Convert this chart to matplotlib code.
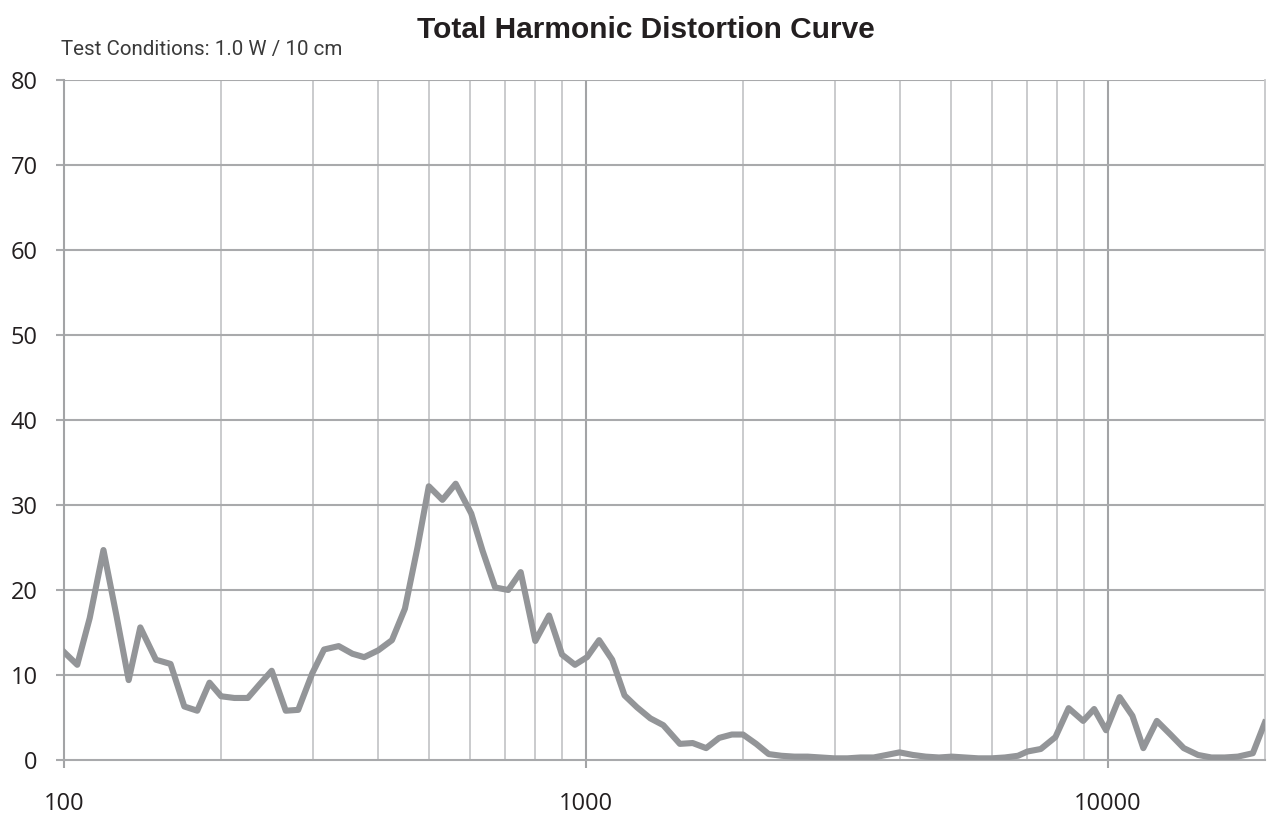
import matplotlib
matplotlib.use("Agg")
import matplotlib.pyplot as plt
from matplotlib.ticker import FixedLocator, NullFormatter

# frequencies (Hz), roughly 1/12 octave steps
freq = [100, 106, 112, 119, 126, 133, 140, 150, 160, 170, 180, 190,
        200, 212, 225, 237, 250, 266, 281, 299, 315, 336, 357, 376,
        400, 425, 450, 476, 500, 531, 563, 603, 634, 670, 710, 750,
        800, 850, 900, 953, 1005, 1060, 1123, 1186, 1253, 1329, 1407, 1514,
        1602, 1700, 1800, 1904, 2000, 2120, 2240, 2370, 2510, 2660, 2820, 2990,
        3170, 3360, 3560, 3770, 3990, 4230, 4480, 4750, 5030, 5330, 5650, 5990,
        6350, 6730, 7015, 7443, 7939, 8415, 8972, 9418, 9927, 10537, 11150, 11700,
        12420, 13190, 13985, 14890, 15800, 16750, 17750, 18970, 20000]

# THD (%)
thd = [12.7, 11.2, 16.7, 24.7, 17.0, 9.4, 15.6, 11.8, 11.3, 6.3, 5.8, 9.1,
       7.5, 7.3, 7.3, 8.9, 10.5, 5.8, 5.9, 10.2, 13.0, 13.4, 12.5, 12.1,
       12.9, 14.1, 17.8, 25.1, 32.2, 30.6, 32.5, 29.0, 24.6, 20.3, 20.0, 22.1,
       14.0, 17.0, 12.4, 11.2, 12.1, 14.1, 11.8, 7.6, 6.2, 4.9, 4.1, 1.9,
       2.0, 1.4, 2.6, 3.0, 3.0, 1.9, 0.7, 0.5, 0.4, 0.4, 0.3, 0.2,
       0.2, 0.3, 0.3, 0.6, 0.9, 0.6, 0.4, 0.3, 0.4, 0.3, 0.2, 0.2,
       0.3, 0.5, 1.0, 1.3, 2.7, 6.1, 4.6, 6.0, 3.5, 7.4, 5.2, 1.4,
       4.6, 3.0, 1.4, 0.6, 0.3, 0.3, 0.4, 0.8, 4.4]

major_x = [100, 1000, 10000]
minor_x = [200, 300, 400, 500, 600, 700, 800, 900,
           2000, 3000, 4000, 5000, 6000, 7000, 8000, 9000]
y_ticks = [0, 10, 20, 30, 40, 50, 60, 70, 80]

fig = plt.figure(figsize=(12.68, 8.19), dpi=100)
ax = fig.add_axes([0.0505, 0.072, 0.947, 0.8305])

ax.set_xscale("log")
ax.set_xlim(100, 20000)
ax.set_ylim(0, 80)

# grid
for f in minor_x:
    ax.axvline(f, color="#c6c7c9", lw=1.3, zorder=1)
for f in major_x[1:]:
    ax.axvline(f, color="#a3a4a6", lw=1.5, zorder=1)
for v in y_ticks[1:]:
    ax.axhline(v, color="#a9aaac", lw=1.5, zorder=1)

ax.plot(freq, thd, color="#939598", lw=4.4, solid_joinstyle="round", zorder=3)

ax.xaxis.set_major_locator(FixedLocator(major_x))
ax.xaxis.set_minor_locator(FixedLocator([]))
ax.xaxis.set_minor_formatter(NullFormatter())
ax.set_xticklabels(["100", "1000", "10000"])
ax.set_yticks(y_ticks)

ax.tick_params(axis="x", length=6, width=1.5, color="#a3a4a6", pad=17,
               labelsize=17, labelcolor="#231f20")
ax.tick_params(axis="y", length=6, width=1.5, color="#a9aaac", pad=13,
               labelsize=17, labelcolor="#231f20")
for lab in ax.get_xticklabels() + ax.get_yticklabels():
    lab.set_fontfamily("Open Sans")

ax.spines["top"].set_visible(False)
ax.spines["left"].set_color("#a3a4a6")
ax.spines["left"].set_linewidth(1.5)
ax.spines["bottom"].set_color("#a9aaac")
ax.spines["bottom"].set_linewidth(1.5)
ax.spines["right"].set_color("#c6c7c9")
ax.spines["right"].set_linewidth(1.3)

fig.text(0.509, 0.963, "Total Harmonic Distortion Curve", ha="center", va="center",
         fontsize=21.5, fontweight="bold", family="Liberation Sans", color="#231f20")
fig.text(0.048, 0.940, "Test Conditions: 1.0 W / 10 cm", ha="left", va="center",
         fontsize=14.8, family="Roboto", color="#3a3a3a")

fig.savefig("out.png", dpi=100)
